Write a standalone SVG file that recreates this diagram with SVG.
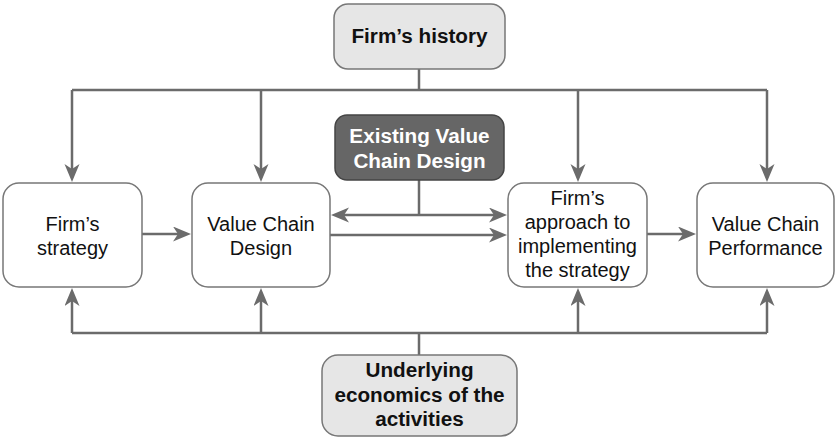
<svg xmlns="http://www.w3.org/2000/svg" width="836" height="438" viewBox="0 0 836 438">
<style>
.box{fill:#ffffff;stroke:#777777;stroke-width:1.5}
.grey{fill:#e6e6e6;stroke:#777777;stroke-width:1.5}
.dark{fill:#666666;stroke:#444444;stroke-width:1.5}
.t{font-family:"Liberation Sans",Arial,Helvetica,sans-serif;font-size:20px;fill:#111111;text-anchor:middle}
.b{font-weight:bold;font-size:20.7px}
.w{fill:#ffffff}
.c{fill:none;stroke:#6b6b6b;stroke-width:2.5}
</style>
<defs>
<marker id="ah" markerUnits="userSpaceOnUse" markerWidth="20" markerHeight="16" refX="12" refY="7.5" orient="auto-start-reverse" viewBox="0 0 20 16">
<path d="M0,0 L18,7.5 L0,15 L5,7.5 Z" fill="#6b6b6b"/>
</marker>
</defs>
<g id="connectors">
<path class="c" d="M419,69 V90 M72,90 H767"/>
<path class="c" d="M72,90 V176" marker-end="url(#ah)"/>
<path class="c" d="M261,90 V176" marker-end="url(#ah)"/>
<path class="c" d="M578,90 V176" marker-end="url(#ah)"/>
<path class="c" d="M767,90 V176" marker-end="url(#ah)"/>
<path class="c" d="M419,355 V333 M72,333 H767"/>
<path class="c" d="M72,333 V294" marker-end="url(#ah)"/>
<path class="c" d="M261,333 V294" marker-end="url(#ah)"/>
<path class="c" d="M578,333 V294" marker-end="url(#ah)"/>
<path class="c" d="M767,333 V294" marker-end="url(#ah)"/>
<path class="c" d="M419,180 V215"/>
<path class="c" d="M337,215 H501" marker-start="url(#ah)" marker-end="url(#ah)"/>
<path class="c" d="M142,234 H185" marker-end="url(#ah)"/>
<path class="c" d="M330,235 H501" marker-end="url(#ah)"/>
<path class="c" d="M647,234 H690" marker-end="url(#ah)"/>
</g>
<g id="firms-history">
<rect class="grey" x="334" y="4" width="171" height="65" rx="14"/>
<text class="t b" x="419.5" y="43">Firm’s history</text>
</g>
<g id="existing-value-chain-design">
<rect class="dark" x="335" y="115" width="169" height="65" rx="12"/>
<text class="t b w" x="419.5" y="143">Existing Value</text>
<text class="t b w" x="419.5" y="168">Chain Design</text>
</g>
<g id="firms-strategy">
<rect class="box" x="3" y="183" width="139" height="104" rx="16"/>
<text class="t" x="72.5" y="231">Firm’s</text>
<text class="t" x="72.5" y="255">strategy</text>
</g>
<g id="value-chain-design">
<rect class="box" x="192" y="183" width="138" height="104" rx="16"/>
<text class="t" x="261" y="231">Value Chain</text>
<text class="t" x="261" y="255">Design</text>
</g>
<g id="firms-approach">
<rect class="box" x="508" y="183" width="139" height="104" rx="16"/>
<text class="t" x="577.5" y="205">Firm’s</text>
<text class="t" x="577.5" y="229">approach to</text>
<text class="t" x="577.5" y="253">implementing</text>
<text class="t" x="577.5" y="277">the strategy</text>
</g>
<g id="value-chain-performance">
<rect class="box" x="697" y="183" width="137" height="104" rx="16"/>
<text class="t" x="765.5" y="231">Value Chain</text>
<text class="t" x="765.5" y="255">Performance</text>
</g>
<g id="underlying-economics">
<rect class="grey" x="322" y="355" width="195" height="81" rx="16"/>
<text class="t b" x="419.5" y="377">Underlying</text>
<text class="t b" x="419.5" y="402">economics of the</text>
<text class="t b" x="419.5" y="426">activities</text>
</g>
</svg>
